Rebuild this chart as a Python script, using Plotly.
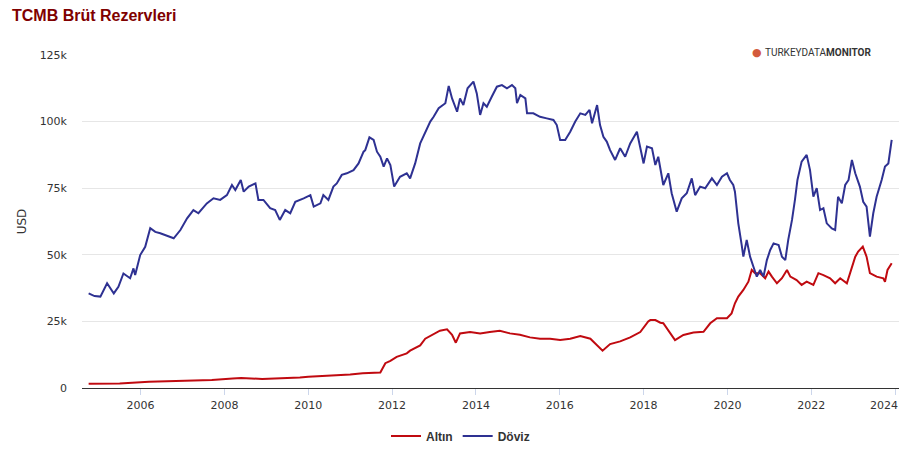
import pandas as pd
import plotly.graph_objects as go

# ---- data (decimal year, thousand USD) ----
doviz_t = [2004.76, 2004.90, 2005.04, 2005.20, 2005.36, 2005.47, 2005.59, 2005.75, 2005.83, 2005.87,
           2005.99, 2006.11, 2006.23, 2006.35, 2006.47, 2006.79, 2006.95, 2007.11, 2007.26, 2007.38,
           2007.58, 2007.74, 2007.90, 2008.06, 2008.18, 2008.26, 2008.39, 2008.46, 2008.58, 2008.74,
           2008.81, 2008.93, 2009.09, 2009.21, 2009.32, 2009.45, 2009.57, 2009.69, 2009.89, 2010.05,
           2010.13, 2010.29, 2010.36, 2010.48, 2010.60, 2010.68, 2010.80, 2010.92, 2011.08, 2011.20,
           2011.32, 2011.36, 2011.46, 2011.56, 2011.64, 2011.72, 2011.80, 2011.88, 2011.96, 2012.05,
           2012.19, 2012.35, 2012.43, 2012.55, 2012.67, 2012.79, 2012.91, 2012.99, 2013.11, 2013.27,
           2013.35, 2013.43, 2013.55, 2013.62, 2013.70, 2013.80, 2013.94, 2014.02, 2014.10, 2014.18,
           2014.26, 2014.38, 2014.50, 2014.62, 2014.74, 2014.86, 2014.94, 2014.98, 2015.06, 2015.18,
           2015.22, 2015.37, 2015.53, 2015.69, 2015.85, 2015.93, 2016.01, 2016.13, 2016.25, 2016.37,
           2016.49, 2016.61, 2016.71, 2016.77, 2016.89, 2016.96, 2017.04, 2017.12, 2017.20, 2017.32,
           2017.44, 2017.56, 2017.68, 2017.84, 2018.00, 2018.08, 2018.20, 2018.28, 2018.35, 2018.47,
           2018.59, 2018.67, 2018.79, 2018.91, 2019.03, 2019.15, 2019.23, 2019.35, 2019.47, 2019.63,
           2019.75, 2019.87, 2019.99, 2020.06, 2020.14, 2020.18, 2020.26, 2020.34, 2020.38, 2020.46,
           2020.54, 2020.62, 2020.70, 2020.78, 2020.86, 2020.94, 2021.02, 2021.10, 2021.22, 2021.30,
           2021.38, 2021.45, 2021.54, 2021.61, 2021.67, 2021.77, 2021.89, 2021.97, 2022.05, 2022.13,
           2022.21, 2022.29, 2022.37, 2022.49, 2022.57, 2022.64, 2022.73, 2022.81, 2022.89, 2022.97,
           2023.05, 2023.16, 2023.24, 2023.32, 2023.40, 2023.48, 2023.56, 2023.68, 2023.76, 2023.84,
           2023.92]
doviz_v = [35.5, 34.5, 34.3, 39.3, 35.5, 38.0, 43.0, 41.2, 44.9, 42.4,
           49.9, 53.0, 60.0, 58.6, 58.1, 56.2, 59.3, 63.7, 66.8, 65.6,
           69.3, 71.2, 70.6, 72.4, 76.2, 74.3, 78.1, 73.7, 75.6, 76.8,
           70.6, 70.6, 67.5, 66.8, 63.1, 66.8, 65.6, 69.9, 71.2, 72.4,
           68.1, 69.3, 72.4, 70.6, 75.6, 76.8, 80.0, 80.6, 81.8, 84.3,
           88.7, 89.3, 94.1, 93.1, 88.7, 86.8, 83.1, 86.2, 83.7, 75.6,
           79.3, 80.6, 78.7, 84.3, 91.8, 95.6, 100.0, 101.8, 105.0, 106.9,
           113.4, 108.7, 103.7, 108.7, 106.2, 112.5, 115.0, 110.6, 102.5, 106.9,
           105.6, 109.4, 113.1, 113.7, 112.5, 113.7, 112.5, 106.9, 110.0, 108.7,
           103.1, 103.1, 101.8, 101.2, 100.6, 98.7, 93.1, 93.1, 96.2, 100.0,
           103.1, 102.5, 104.4, 99.4, 106.2, 98.7, 94.3, 92.5, 89.3, 85.6,
           90.0, 86.8, 91.8, 96.2, 84.3, 90.6, 90.0, 83.7, 86.8, 76.2,
           80.6, 73.1, 66.2, 71.2, 73.1, 78.7, 72.4, 75.6, 75.0, 78.7,
           76.2, 79.3, 80.6, 78.1, 76.2, 73.7, 61.8, 53.7, 49.3, 55.6,
           49.3, 45.5, 41.8, 44.3, 41.8, 48.0, 51.8, 54.3, 53.7, 49.3,
           48.0, 55.6, 63.1, 70.6, 78.1, 85.0, 87.5, 81.8, 71.8, 75.0,
           66.8, 67.5, 61.8, 59.9, 59.3, 71.8, 69.3, 76.2, 78.1, 85.6,
           80.6, 75.6, 69.9, 68.1, 56.8, 65.6, 71.8, 78.1, 83.1, 84.3,
           93.1]

altin_t = [2004.76, 2005.50, 2006.20, 2007.00, 2007.70, 2008.20, 2008.40, 2008.90, 2009.30, 2009.80,
           2010.00, 2010.60, 2011.00, 2011.30, 2011.72, 2011.84, 2011.96, 2012.11, 2012.35, 2012.43,
           2012.67, 2012.79, 2012.95, 2013.14, 2013.31, 2013.43, 2013.52, 2013.62, 2013.86, 2014.10,
           2014.33, 2014.57, 2014.81, 2015.05, 2015.29, 2015.53, 2015.77, 2016.01, 2016.25, 2016.49,
           2016.73, 2016.92, 2017.02, 2017.20, 2017.44, 2017.68, 2017.92, 2018.11, 2018.16, 2018.28,
           2018.40, 2018.47, 2018.63, 2018.75, 2018.95, 2019.19, 2019.43, 2019.59, 2019.75, 2019.99,
           2020.10, 2020.18, 2020.26, 2020.38, 2020.50, 2020.58, 2020.66, 2020.78, 2020.90, 2020.98,
           2021.06, 2021.18, 2021.30, 2021.42, 2021.50, 2021.65, 2021.77, 2021.89, 2022.05, 2022.17,
           2022.29, 2022.45, 2022.57, 2022.69, 2022.85, 2022.92, 2023.05, 2023.12, 2023.23, 2023.32,
           2023.40, 2023.56, 2023.72, 2023.76, 2023.82, 2023.92]
altin_v = [1.6, 1.7, 2.3, 2.6, 3.0, 3.6, 3.8, 3.4, 3.5, 3.9,
           4.2, 4.6, 5.1, 5.5, 5.8, 9.3, 10.2, 11.7, 13.0, 14.0,
           16.0, 18.5, 20.0, 21.5, 22.0, 20.0, 17.0, 20.5, 21.0, 20.5,
           21.0, 21.5, 20.5, 20.0, 19.0, 18.5, 18.5, 18.0, 18.5, 19.5,
           18.5, 15.5, 14.0, 16.5, 17.5, 19.0, 21.0, 25.0, 25.5, 25.5,
           24.5, 24.3, 20.5, 18.0, 19.9, 20.8, 21.1, 24.3, 26.2, 26.2,
           28.0, 31.8, 34.3, 36.8, 39.9, 44.3, 43.1, 43.1, 41.2, 43.7,
           41.8, 39.3, 41.2, 44.3, 41.8, 40.5, 38.7, 39.9, 38.7, 43.1,
           42.4, 41.2, 39.3, 41.2, 39.3, 43.1, 49.3, 51.2, 53.1, 49.3,
           43.1, 41.8, 41.2, 39.9, 44.3, 46.8]

x_tick_years = [2006, 2008, 2010, 2012, 2014, 2016, 2018, 2020, 2022, 2024]
y_ticks = [0, 25000, 50000, 75000, 100000, 125000]
y_tick_labels = ["0", "25k", "50k", "75k", "100k", "125k"]


def to_date(t):
    y = int(t)
    start = pd.Timestamp(year=y, month=1, day=1)
    end = pd.Timestamp(year=y + 1, month=1, day=1)
    return start + (end - start) * (t - y)


# the last label would run past the chart edge; it is drawn as a shifted annotation instead
tick_dates = [pd.Timestamp(year=y, month=1, day=1) for y in x_tick_years]
x_tick_text = [str(y) for y in x_tick_years[:-1]] + [""]

fig = go.Figure()
fig.add_trace(go.Scatter(x=[to_date(t) for t in altin_t], y=[v * 1000 for v in altin_v],
                         mode="lines", name="Altın", line=dict(color="#c00a10", width=2)))
fig.add_trace(go.Scatter(x=[to_date(t) for t in doviz_t], y=[v * 1000 for v in doviz_v],
                         mode="lines", name="Döviz", line=dict(color="#2e3192", width=2)))

W, H = 902, 458
fig.update_layout(
    width=W, height=H,
    margin=dict(l=74, r=11, t=47, b=78, autoexpand=False),
    paper_bgcolor="white", plot_bgcolor="white",
    font=dict(family="DejaVu Sans", size=11, color="#333333"),
    title=dict(text="<b>TCMB Brüt Rezervleri</b>", x=4 / W, xref="container", xanchor="left",
               y=1 - 7 / H, yref="container", yanchor="middle",
               font=dict(family="Liberation Sans", size=16, color="#7f0000")),
    showlegend=True,
    legend=dict(orientation="h", xref="container", x=378 / W, xanchor="left",
                yref="container", y=30 / H, yanchor="middle",
                font=dict(family="Liberation Sans", size=12, color="#333333", weight="bold")),
    xaxis=dict(
        range=[to_date(2004.602), to_date(2024.094)],
        type="date",
        tickvals=tick_dates,
        ticktext=x_tick_text,
        showgrid=False, showline=True, linecolor="#333333", linewidth=1,
        ticks="outside", tickcolor="#ccd6eb", ticklen=6,
        ticklabelstandoff=1, automargin=False,
        tickfont=dict(family="DejaVu Sans", size=11, color="#333333"),
    ),
    yaxis=dict(
        range=[0, 125000], tickvals=y_ticks, ticktext=y_tick_labels,
        showgrid=True, gridcolor="#e6e6e6", zeroline=False, automargin=False,
        title=dict(text="USD", font=dict(family="DejaVu Sans", size=12, color="#333333"), standoff=10),
        tickfont=dict(family="DejaVu Sans", size=11, color="#333333"),
        ticklabelstandoff=14,
    ),
)

fig.add_annotation(xref="x", yref="paper", x=tick_dates[-1], y=0, xanchor="center", yanchor="middle",
                   xshift=-11, yshift=-17, text=str(x_tick_years[-1]), showarrow=False,
                   font=dict(family="DejaVu Sans", size=11, color="#333333"))

# logo
fig.add_annotation(xref="paper", yref="paper", x=0.834, y=1.009, xanchor="left", yanchor="middle",
                   text="TURKEYDATA<b>MONITOR</b>", showarrow=False,
                   font=dict(family="Roboto", size=10, color="#333333"), bgcolor="white")
fig.add_annotation(xref="paper", yref="paper", x=0.826, y=1.009, xanchor="center", yanchor="middle",
                   text="●", showarrow=False,
                   font=dict(size=11, color="#d35a3c"))

fig.write_html("out.html")
